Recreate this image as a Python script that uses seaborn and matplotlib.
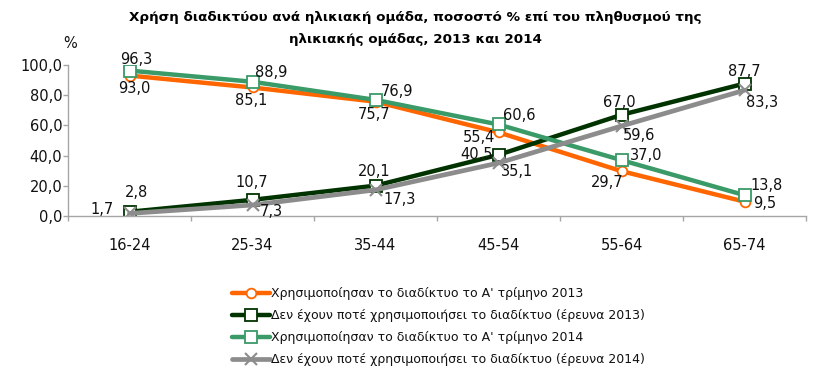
import matplotlib
matplotlib.use("Agg")
import matplotlib.pyplot as plt
import numpy as np
import pandas as pd
import seaborn as sns

ages = ["16-24", "25-34", "35-44", "45-54", "55-64", "65-74"]
used_2013 = [93.0, 85.1, 75.7, 55.4, 29.7, 9.5]
never_2013 = [2.8, 10.7, 20.1, 40.5, 67.0, 87.7]
used_2014 = [96.3, 88.9, 76.9, 60.6, 37.0, 13.8]
never_2014 = [1.7, 7.3, 17.3, 35.1, 59.6, 83.3]

names = ["Χρησιμοποίησαν το διαδίκτυο το Α' τρίμηνο 2013",
         "Δεν έχουν ποτέ χρησιμοποιήσει το διαδίκτυο (έρευνα 2013)",
         "Χρησιμοποίησαν το διαδίκτυο το Α' τρίμηνο 2014",
         "Δεν έχουν ποτέ χρησιμοποιήσει το διαδίκτυο (έρευνα 2014)"]

sns.set_style("white")
plt.rcParams['font.family'] = ['DejaVu Sans']
plt.rcParams['text.color'] = '#111111'
plt.rcParams['xtick.color'] = '#111111'
plt.rcParams['ytick.color'] = '#111111'

fig = plt.figure(figsize=(8.31, 3.79), dpi=100)
ax = fig.add_axes([68/831, 1-216/379, (806-68)/831, (216-65)/379])

x = np.arange(len(ages))
series = [used_2013, never_2013, used_2014, never_2014]
colors = ["#ff6600", "#003300", "#3a9a68", "#8c8c8c"]
markers = ["o", "s", "s", "x"]
msizes = [7, 8, 8, 8]

for vals, name, c, m, ms in zip(series, names, colors, markers, msizes):
    df = pd.DataFrame({"x": x, "y": vals})
    if m == "x":
        sns.lineplot(data=df, x="x", y="y", ax=ax, color=c, lw=3.4, marker=m,
                     markersize=ms, markeredgewidth=1.5, markeredgecolor=c,
                     label=name)
    else:
        sns.lineplot(data=df, x="x", y="y", ax=ax, color=c, lw=3.2, marker=m,
                     markersize=ms, markerfacecolor="white", markeredgecolor=c,
                     markeredgewidth=1.3, label=name)

# label offsets from the point in screen pixels (dx right, dy down)
offsets = [
    [(5, 13), (-1, 13), (-1, 13), (-19, 5), (-14, 11), (20, 2)],
    [(7, -19), (-1, -17), (-1, -14), (-22, 0), (-2, -12), (0, -12)],
    [(7, -11), (19, -9), (22, -8), (21, -9), (25, -5), (22, -10)],
    [(-27, -4), (19, 7), (24, 10), (19, 9), (18, 9), (18, 12)],
]
for vals, offs in zip(series, offsets):
    for xi, v, (dx, dy) in zip(x, vals, offs):
        ax.annotate(f"{v:.1f}".replace(".", ","), (xi, v), xytext=(dx, -dy),
                    textcoords="offset pixels", ha="center", va="center",
                    fontsize=10.5, color="#111111")

ax.set_xlim(-0.5, 5.5)
ax.set_ylim(0, 100)
ax.set_yticks(np.arange(0, 101, 20))
ax.set_yticklabels([f"{t:.1f}".replace(".", ",") for t in np.arange(0, 101, 20)])
ax.set_xticks(x)
ax.set_xticklabels(ages)
ax.set_xticks(np.arange(-0.5, 6, 1), minor=True)
ax.tick_params(axis="x", which="both", bottom=True)
ax.tick_params(axis="y", which="major", left=True)
ax.tick_params(axis="x", which="major", length=0, pad=16, labelsize=10.5)
ax.tick_params(axis="x", which="minor", length=3.6, width=1, color="#a6a6a6", direction="out")
ax.tick_params(axis="y", length=3.6, width=1, color="#a6a6a6", direction="out", labelsize=10.5, pad=0.5)
ax.set_xlabel("")
ax.set_ylabel("")
for s in ["top", "right"]:
    ax.spines[s].set_visible(False)
for s in ["left", "bottom"]:
    ax.spines[s].set_color("#a6a6a6")
    ax.spines[s].set_linewidth(1)

handles, labels = ax.get_legend_handles_labels()
ax.get_legend().remove()
fig.legend(handles, labels, loc="upper left", bbox_to_anchor=(232/831, 1-287/379),
           frameon=False, fontsize=9, handlelength=3.0, handletextpad=0.1,
           labelspacing=0.72, borderpad=0, borderaxespad=0)

fig.text(0.5, 1-18/379, "Χρήση διαδικτύου ανά ηλικιακή ομάδα, ποσοστό % επί του πληθυσμού της",
         ha="center", va="center", fontsize=9.7, fontweight="bold", color="black")
fig.text(0.5, 1-40/379, "ηλικιακής ομάδας, 2013 και 2014",
         ha="center", va="center", fontsize=9.7, fontweight="bold", color="black")
fig.text(70/831, 1-43/379, "%", ha="center", va="center", fontsize=10.5)

fig.savefig("out.png", dpi=100)
